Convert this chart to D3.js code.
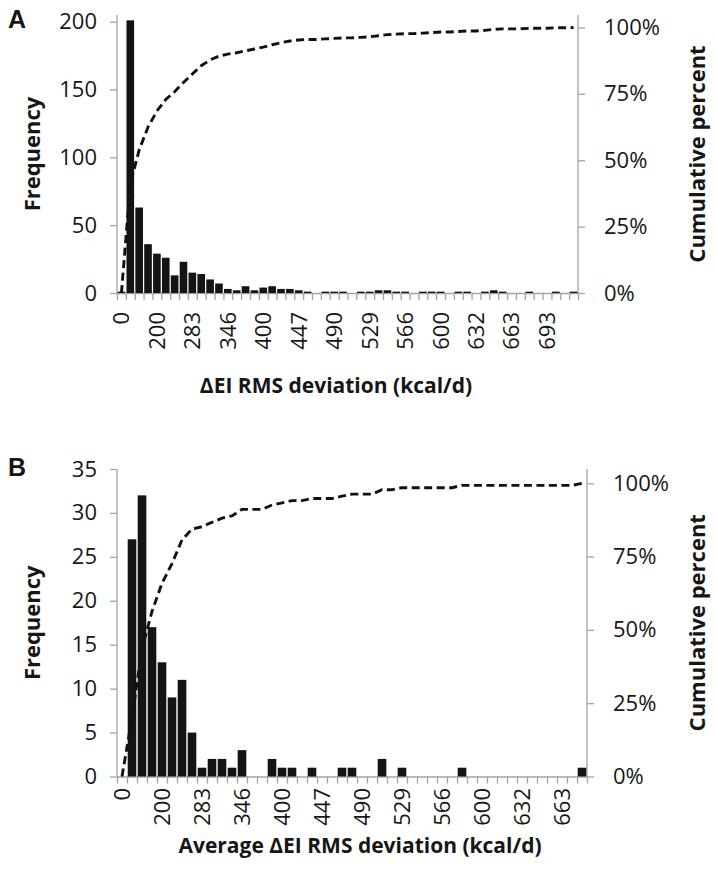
<!DOCTYPE html>
<html>
<head>
<meta charset="utf-8">
<script src="https://cdnjs.cloudflare.com/ajax/libs/d3/7.8.5/d3.min.js"></script>
<style>
  body { margin: 0; background: #fff; }
  svg text { font-family: "Open Sans", sans-serif; fill: #161616; }
</style>
</head>
<body>
<svg id="chart" width="716" height="877"></svg>
<script>
// bin labels (kcal/d), one per histogram bin
const binLabels = ["0","100","141","173","200","224","245","265","283","300","316","332","346","361",
  "374","387","400","412","424","436","447","458","469","480","490","500","510","520","529","539",
  "548","557","566","574","583","592","600","608","616","624","632","640","648","656","663","671",
  "678","686","693","700","707","714"];
// labels Excel actually prints under the axis
const shownLabels = ["0","200","283","346","400","447","490","529","566","600","632","663","693"];

// panel A: frequency per bin and cumulative percent
const freqA = [1,201,63,36,29,26,13,23,15,14,10,7,3,2,5,2,4,5,3,3,2,
  1,0,1,1,1,0,1,1,2,2,1,1,0,1,1,1,0,1,1,0,1,2,1,0,0,1,0,0,1,0,1];
const cumA = [0,41.0,53.9,62.5,68.5,72.9,75.8,79.3,82.5,85.6,87.8,89.2,90.0,90.5,91.2,91.9,92.6,
  93.5,94.3,94.9,95.3,95.5,95.5,95.7,95.9,96.1,96.1,96.3,96.5,96.9,97.3,97.5,97.7,97.7,97.9,98.1,
  98.3,98.3,98.5,98.7,98.7,98.9,99.3,99.5,99.5,99.5,99.7,99.7,99.7,99.9,99.9,100];

// panel B
const freqB = [0,27,32,17,13,9,11,5,1,2,2,1,3,0,0,2,1,1,0,1,0,0,1,1,0,0,2,0,1,0,0,0,0,0,1,
  0,0,0,0,0,0,0,0,0,0,0,1];
const cumB = [0,20.0,43.7,56.3,65.9,72.6,80.7,84.4,85.2,86.7,88.1,88.9,91.1,91.1,91.1,92.6,93.3,
  94.1,94.1,94.8,94.8,94.8,95.6,96.3,96.3,96.3,97.8,97.8,98.5,98.5,98.5,98.5,98.5,98.5,99.3,99.3,
  99.3,99.3,99.3,99.3,99.3,99.3,99.3,99.3,99.3,99.3,100];

const countTicksA = [0,50,100,150,200];
const countTicksB = [0,5,10,15,20,25,30,35];
const pctTicks = [0,0.25,0.5,0.75,1];

const svg = d3.select("#chart");
const axisGrey = "#a3a3a3";

drawPanel({
  letter: "A", letterY: 28,
  freq: freqA, cum: cumA, yTicks: countTicksA,
  left: 117, right: 578, top: 15, base: 293,
  yMax: 200, yMaxPos: 21.7, pctTopPos: 27.5,
  labelGap: 19,
  xTitle: "\u0394EI RMS deviation (kcal/d)", xTitleX: 336, xTitleY: 393
});

drawPanel({
  letter: "B", letterY: 476,
  freq: freqB, cum: cumB, yTicks: countTicksB,
  left: 117, right: 587, top: 469, base: 776.5,
  yMax: 35, yMaxPos: 469, pctTopPos: 483.3,
  labelGap: 11.5,
  xTitle: "Average \u0394EI RMS deviation (kcal/d)", xTitleX: 360, xTitleY: 853
});

function drawPanel(p) {
  const g = svg.append("g");
  const n = p.freq.length;
  const cats = binLabels.slice(0, n);

  const x = d3.scaleBand().domain(cats).range([p.left, p.right])
    .paddingInner(0.14).paddingOuter(0.07);
  const xEdge = d3.scaleLinear().domain([0, n]).range([p.left, p.right]);
  const y = d3.scaleLinear().domain([0, p.yMax]).range([p.base, p.yMaxPos]);
  const yPct = d3.scaleLinear().domain([0, 1]).range([p.base, p.pctTopPos]);

  // left axis (counts)
  const gl = g.append("g").attr("transform", `translate(${p.left},0)`)
    .call(d3.axisLeft(y).tickValues(p.yTicks).tickSize(7).tickPadding(13).tickSizeOuter(0));
  gl.select(".domain").remove();
  gl.append("line").attr("y1", p.top).attr("y2", p.base);

  // right axis (percent)
  const gr = g.append("g").attr("transform", `translate(${p.right},0)`)
    .call(d3.axisRight(yPct).tickValues(pctTicks).tickSize(7).tickPadding(19)
      .tickSizeOuter(0).tickFormat(d3.format(".0%")));
  gr.select(".domain").remove();
  gr.append("line").attr("y1", p.top).attr("y2", p.base);

  // bottom axis: tick marks between bins
  const gb = g.append("g").attr("transform", `translate(0,${p.base})`)
    .call(d3.axisBottom(xEdge).tickValues(d3.range(n + 1)).tickSize(7)
      .tickSizeOuter(0).tickFormat(""));

  // bottom labels, rotated
  const gx = g.append("g").attr("transform", `translate(0,${p.base})`)
    .call(d3.axisBottom(x).tickValues(shownLabels.filter(l => cats.includes(l))).tickSize(0));
  gx.select(".domain").remove();
  gx.selectAll("text")
    .attr("transform", "rotate(-90)")
    .attr("x", -p.labelGap).attr("y", 0).attr("dy", "0.36em")
    .style("text-anchor", "end");

  [gl, gr, gb, gx].forEach(a => {
    a.attr("font-family", null).attr("font-size", null);
    a.selectAll("line, path").attr("stroke", axisGrey).attr("stroke-width", 1.3);
    a.selectAll("text").attr("fill", "#161616").style("font-size", "22px");
  });

  // bars
  g.append("g").selectAll("rect").data(p.freq).join("rect")
    .attr("x", (d, i) => x(cats[i]))
    .attr("width", x.bandwidth())
    .attr("y", d => y(d))
    .attr("height", d => p.base - y(d))
    .attr("fill", "#141414");

  // cumulative percent line
  const line = d3.line()
    .x((d, i) => x(cats[i]) + x.bandwidth() / 2)
    .y(d => yPct(d / 100));
  g.append("path").datum(p.cum)
    .attr("d", line)
    .attr("fill", "none")
    .attr("stroke", "#111")
    .attr("stroke-width", 2.9)
    .attr("stroke-dasharray", "8,4.5");

  // titles
  const midY = (p.top + p.base) / 2;
  g.append("text")
    .attr("transform", `translate(40,${midY}) rotate(-90)`)
    .attr("text-anchor", "middle")
    .style("font-size", "22px").style("font-weight", "bold")
    .text("Frequency");
  g.append("text")
    .attr("transform", `translate(705,${midY}) rotate(-90)`)
    .attr("text-anchor", "middle")
    .style("font-size", "22px").style("font-weight", "bold")
    .text("Cumulative percent");
  g.append("text")
    .attr("x", p.xTitleX).attr("y", p.xTitleY)
    .attr("text-anchor", "middle")
    .style("font-size", "21px").style("font-weight", "bold")
    .text(p.xTitle);

  g.append("text")
    .attr("x", 8).attr("y", p.letterY)
    .style("font-family", "'Liberation Sans', Arial, sans-serif")
    .style("font-size", "25px").style("font-weight", "bold")
    .text(p.letter);
}
</script>
</body>
</html>
